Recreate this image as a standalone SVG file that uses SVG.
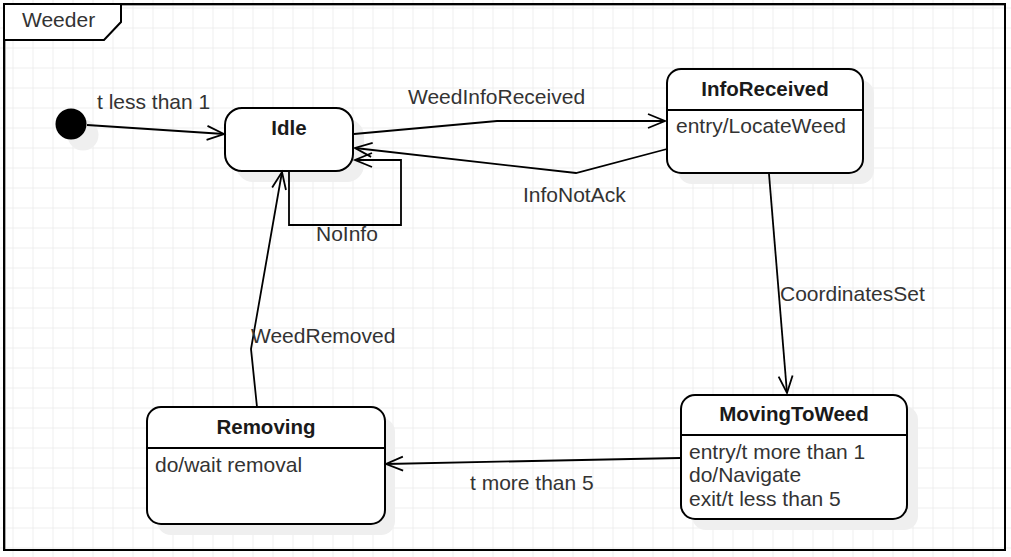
<svg xmlns="http://www.w3.org/2000/svg" width="1011" height="557" viewBox="0 0 1011 557">
  <defs>
    <pattern id="grid" patternUnits="userSpaceOnUse" x="12.5" y="7.5" width="20" height="20">
      <path d="M0 0.5H20M0.5 0V20" fill="none" stroke="#eeeeee" stroke-width="1"/>
    </pattern>
    <marker id="open" markerUnits="userSpaceOnUse" markerWidth="24" markerHeight="20" viewBox="-20 -10 24 20" refX="0" refY="0" orient="auto">
      <path d="M-17,-7 L0,0 L-17,7" fill="none" stroke="#000" stroke-width="1.8"/>
    </marker>
  </defs>
  <style>
    .lbl { font-family: "Liberation Sans", Arial, sans-serif; font-size: 21px; fill: #333; }
    .ttl { font-family: "Liberation Sans", Arial, sans-serif; font-size: 20.5px; font-weight: bold; fill: #1a1a1a; }
    .node { fill: #fff; stroke: #000; stroke-width: 2; }
    .shadow { fill: #efefef; stroke: none; }
    .div { stroke: #000; stroke-width: 2; }
    .edge { fill: none; stroke: #000; stroke-width: 1.8; marker-end: url(#open); }
  </style>
  <rect x="0" y="0" width="1011" height="557" fill="#fff"/>
  <rect x="0" y="0" width="1011" height="557" fill="url(#grid)"/>

  <g id="frame">
    <rect x="5.5" y="5.5" width="1000" height="545" fill="none" stroke="#aaa" stroke-width="1"/>
    <rect x="4" y="4" width="1001" height="546" fill="none" stroke="#000" stroke-width="2"/>
    <path d="M4,4 H121 V22 L104,40 H4 Z" fill="#fff" stroke="#000" stroke-width="2"/>
    <text class="lbl" x="22" y="27">Weeder</text>
  </g>

  <g id="initial">
    <circle cx="83" cy="135" r="15.5" class="shadow"/>
    <circle cx="71" cy="124" r="15.5" fill="#000"/>
  </g>

  <g id="idle">
    <rect x="236" y="119" width="128" height="63" rx="17" class="shadow"/>
    <rect x="225" y="108" width="128" height="63" rx="17" class="node"/>
    <text class="ttl" x="289" y="135" text-anchor="middle">Idle</text>
  </g>

  <g id="inforeceived">
    <rect x="678" y="80" width="196" height="104" rx="14" class="shadow"/>
    <rect x="667" y="69" width="196" height="104" rx="14" class="node"/>
    <line x1="667" y1="110" x2="863" y2="110" class="div"/>
    <text class="ttl" x="765" y="96" text-anchor="middle">InfoReceived</text>
    <text class="lbl" x="676" y="133">entry/LocateWeed</text>
  </g>

  <g id="movingtoweed">
    <rect x="692" y="406" width="226" height="124" rx="14" class="shadow"/>
    <rect x="681" y="395" width="226" height="124" rx="14" class="node"/>
    <line x1="681" y1="435" x2="907" y2="435" class="div"/>
    <text class="ttl" x="794" y="421" text-anchor="middle">MovingToWeed</text>
    <text class="lbl" x="689" y="459">entry/t more than 1</text>
    <text class="lbl" x="689" y="482">do/Navigate</text>
    <text class="lbl" x="689" y="506">exit/t less than 5</text>
  </g>

  <g id="removing">
    <rect x="157" y="418" width="238" height="117" rx="14" class="shadow"/>
    <rect x="147" y="407" width="238" height="117" rx="14" class="node"/>
    <line x1="147" y1="448" x2="385" y2="448" class="div"/>
    <text class="ttl" x="266" y="434" text-anchor="middle">Removing</text>
    <text class="lbl" x="155" y="472">do/wait removal</text>
  </g>

  <g id="connectors">
    <path class="edge" d="M87,125 L224,134"/>
    <text class="lbl" x="97" y="109">t less than 1</text>

    <path class="edge" d="M354,134 L497,121 L665,121"/>
    <text class="lbl" x="408" y="104">WeedInfoReceived</text>

    <path class="edge" d="M667,149 L576,173 L355,148"/>
    <text class="lbl" x="523" y="202">InfoNotAck</text>

    <path class="edge" d="M289,171 L289,225 L401,225 L401,160 L355,160"/>
    <text class="lbl" x="316" y="241">NoInfo</text>

    <path class="edge" d="M257,407 L251,349 L282,172"/>
    <text class="lbl" x="251" y="343">WeedRemoved</text>

    <path class="edge" d="M769,174 L787,393"/>
    <text class="lbl" x="780" y="301">CoordinatesSet</text>

    <path class="edge" d="M680,458 L386,464"/>
    <text class="lbl" x="470" y="490">t more than 5</text>
  </g>
</svg>
